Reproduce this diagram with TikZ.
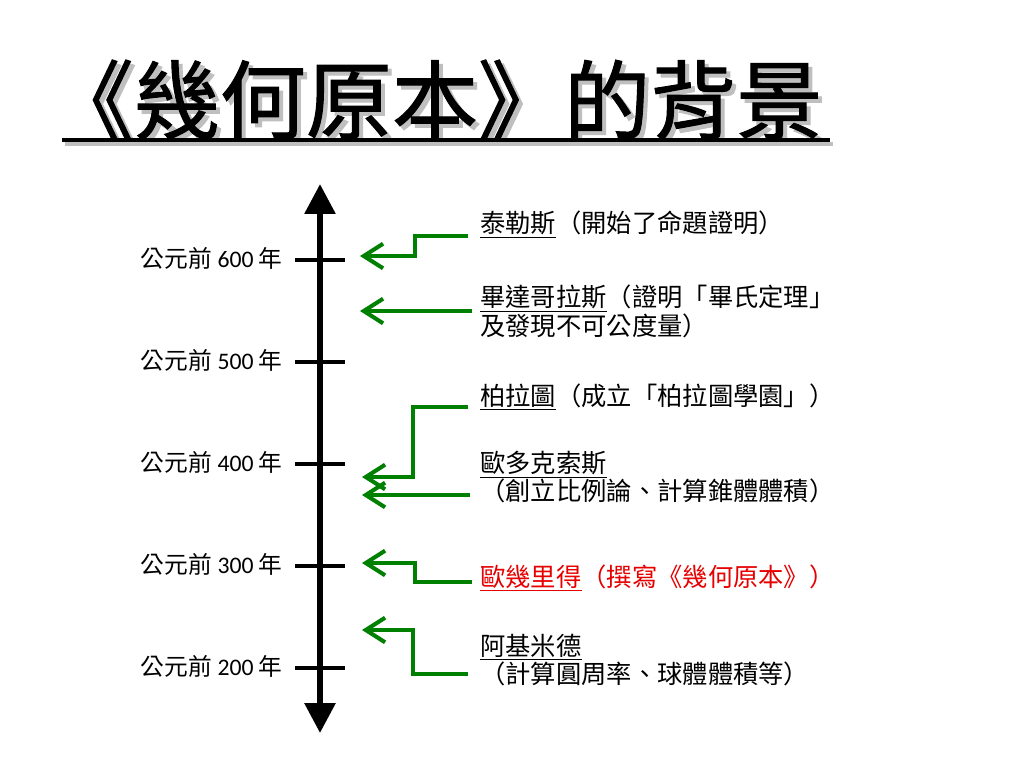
\documentclass[tikz,border=0pt]{standalone}
\usepackage{fontspec}
\setmainfont{Carlito}
\newfontfamily\cjk{Noto Sans CJK TC}
\newfontfamily\titlecjk{Noto Sans CJK TC}[FakeBold=1.2]
\usetikzlibrary{arrows.meta,calc}
\definecolor{linkgreen}{RGB}{0,128,0}
\definecolor{namered}{RGB}{230,0,0}
\tikzset{
  axisline/.style={line width=3.4pt},
  yearmark/.style={line width=2.3pt},
  yearlabel/.style={anchor=east, inner sep=0pt, font=\fontsize{13.5}{15}\selectfont},
  event/.style={anchor=west, inner sep=0pt, align=left, font=\cjk\fontsize{14.4}{16.4}\selectfont},
  link/.style={draw=linkgreen, line width=2.3pt, -{Straight Barb[length=11pt,width=14pt]}},
  titletext/.style={inner sep=0pt, font=\titlecjk\fontsize{49}{51}\selectfont}
}
\begin{document}
\begin{tikzpicture}[x=0.02cm,y=-0.02cm]
  \fill[white] (0,0) rectangle (1024,768);
  \useasboundingbox (0,0) rectangle (1024,768);

  % title with shadow
  \node[titletext, gray!50] at (439,104) {《幾何原本》的背景};
  \node[titletext] (title) at (435,100) {《幾何原本》的背景};
  \draw[line width=1.8pt, gray!50] (65,144) -- (833,144);
  \draw[line width=2.3pt] (62,140) -- (830,140);

  % time axis
  \draw[axisline, {Triangle[length=17pt,width=17pt]}-{Triangle[length=17pt,width=17pt]}] (320,733) -- (320,184);
  \foreach \y/\yr in {260/600, 362/500, 464/400, 566/300, 668/200} {
    \draw[yearmark] (295,\y) -- (345,\y);
    \node[yearlabel] (y\yr) at (283,\y-2) {{\cjk 公元前} \yr{} {\cjk 年}};
  }

  % events
  \node[event] (thales) at (480,225) {\underline{泰勒斯}（開始了命題證明）};
  \node[event] (pythagoras) at (480,311) {\underline{畢達哥拉斯}（證明「畢氏定理」\\及發現不可公度量）};
  \node[event] (plato) at (480,397) {\underline{柏拉圖}（成立「柏拉圖學園」）};
  \node[event] (eudoxus) at (480,477) {\underline{歐多克索斯}\\（創立比例論、計算錐體體積）};
  \node[event, text=namered] (euclid) at (480,578) {\underline{歐幾里得}（撰寫《幾何原本》）};
  \node[event] (archimedes) at (480,660) {\underline{阿基米德}\\（計算圓周率、球體體積等）};

  % arrow tips on the axis
  \coordinate (a1) at (360,256);
  \coordinate (a2) at (360,311);
  \coordinate (a3) at (362,477);
  \coordinate (a4) at (362,495);
  \coordinate (a5) at (362,563);
  \coordinate (a6) at (362,630);

  % connectors
  \draw[link] ($(thales.west)+(-12,11)$) -| ($(a1)+(55,0)$) -- (a1);
  \draw[link] ($(pythagoras.west)+(-8,0)$) -- (a2);
  \draw[link] ($(plato.west)+(-12,10)$) -| ($(a3)+(51,0)$) -- (a3);
  \draw[link] ($(eudoxus.west)+(-10,18)$) -- (a4);
  \draw[link] ($(euclid.west)+(-8,4)$) -| ($(a5)+(53,0)$) -- (a5);
  \draw[link] ($(archimedes.west)+(-12,14)$) -| ($(a6)+(51,0)$) -- (a6);
\end{tikzpicture}
\end{document}
